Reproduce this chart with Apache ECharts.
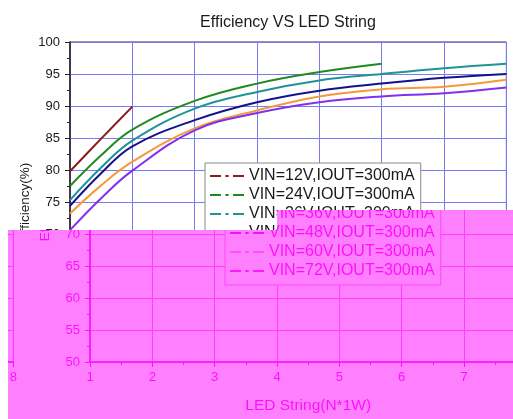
<!DOCTYPE html>
<html>
<head>
<meta charset="utf-8">
<script src="https://cdn.jsdelivr.net/npm/echarts@6/dist/echarts.min.js"></script>
<style>
  html, body { margin: 0; padding: 0; background: #fff; }
  #wrap { position: relative; width: 513px; height: 419px; overflow: hidden; }
  .chart { position: absolute; width: 513px; height: 419px; }
  /* the damaged lower part of the picture: shifted copy, tinted magenta */
  #glitch {
    position: absolute; left: 8px; top: 210px; width: 505px; height: 209px;
    overflow: hidden; background: #fff; isolation: isolate;
    clip-path: polygon(269px 0, 505px 0, 505px 209px, 0 209px, 0 20px, 269px 20px);
  }
  .tint { position: absolute; left: 0; top: 0; width: 100%; height: 100%; }
</style>
</head>
<body>
<div id="wrap">
  <div id="main" class="chart" style="left:0;top:0;"></div>
  <div id="glitch">
    <div id="copy_a" class="chart" style="left:12px;top:-210px;"></div>
    <div id="copy_b" class="chart" style="left:-501px;top:-210px;"></div>
    <div class="tint" style="background:#ff00ff;mix-blend-mode:screen;"></div>
    <div class="tint" style="background:#ff80ff;mix-blend-mode:multiply;"></div>
  </div>
</div>
<script>
// LED string length (N*1W)
const stringCounts = [1, 1.5, 2, 3, 4, 5, 6, 7, 8];
// efficiency (%)
const eff12V = [79.8, 84.9, 89.9];
const eff24V = [77.5, 82.3, 86.3, 90.8, 93.5, 95.3, 96.6];
const eff36V = [75.3, 80.4, 84.6, 89.6, 92.2, 94.0, 95.0, 95.9, 96.6];
const eff48V = [74.4, 79.5, 83.7, 87.8, 90.6, 92.4, 93.5, 94.4, 95.0];
const eff60V = [73.2, 77.6, 81.3, 86.5, 89.3, 91.5, 92.6, 93.0, 94.1];
const eff72V = [70.6, 75.6, 79.9, 86.2, 88.9, 90.6, 91.5, 92.0, 92.9];
const seriesNames = ['VIN=12V,IOUT=300mA', 'VIN=24V,IOUT=300mA', 'VIN=36V,IOUT=300mA',
                     'VIN=48V,IOUT=300mA', 'VIN=60V,IOUT=300mA', 'VIN=72V,IOUT=300mA'];
const seriesColors = ['#8b1c1c', '#1f8a1f', '#1e9494', '#12128c', '#f59a3a', '#8030f0'];

const font = 'Liberation Sans, Arial, sans-serif';
// dash - dot - dash legend mark
const dashDotIcon = 'path://M0,0h10v2h-10z M14,0h3v2h-3z M21,0h10v2h-10z';

function pairs(ys){
  let out = [];
  for(let i = 0; i < ys.length; i++){
    out.push([stringCounts[i], ys[i]]);
  }
  return out;
}

function buildOption(){
  let allEff = [eff12V, eff24V, eff36V, eff48V, eff60V, eff72V];
  let series = [];
  for(let i = 0; i < allEff.length; i++){
    series.push({
      name: seriesNames[i],
      type: 'line',
      smooth: 0.4,
      symbol: 'none',
      color: seriesColors[i],
      lineStyle: { width: 2 },
      data: pairs(allEff[i])
    });
  }
  return {
    animation: false,
    title: {
      text: 'Efficiency VS LED String',
      left: 283,
      top: 10,
      textAlign: 'center',
      textStyle: { fontFamily: font, fontSize: 16, fontWeight: 'normal', color: '#1a1a1a' }
    },
    grid: {
      left: 70, right: 6, top: 42, bottom: 57,
      show: true, borderColor: '#333', borderWidth: 1
    },
    legend: {
      orient: 'vertical',
      left: 205,
      top: 163,
      padding: [5, 6, 6, 5],
      itemGap: 3,
      itemWidth: 34,
      itemHeight: 14,
      icon: dashDotIcon,
      backgroundColor: '#fff',
      borderColor: '#888',
      borderWidth: 1,
      borderRadius: 0,
      textStyle: { fontFamily: font, fontSize: 16, lineHeight: 15, color: '#1a1a1a' },
      data: seriesNames
    },
    xAxis: {
      type: 'value',
      min: 1, max: 8, interval: 1,
      name: 'LED String(N*1W)',
      nameLocation: 'middle',
      nameGap: 36,
      nameTextStyle: { fontFamily: font, fontSize: 15.5, color: '#1a1a1a' },
      axisLine: { lineStyle: { color: '#222', width: 1.5 } },
      axisTick: { inside: false, length: 5, lineStyle: { color: '#222' } },
      minorTick: { show: true, splitNumber: 2, length: 3, lineStyle: { color: '#222' } },
      axisLabel: { fontFamily: font, fontSize: 13, color: '#1a1a1a', margin: 9 },
      splitLine: { show: true, lineStyle: { color: '#7b7bef', width: 1 } }
    },
    yAxis: {
      type: 'value',
      min: 50, max: 100, interval: 5,
      name: 'Efficiency(%)',
      nameLocation: 'middle',
      nameGap: 38,
      nameMoveOverlap: false,
      nameTextStyle: { fontFamily: font, fontSize: 13.5, color: '#1a1a1a' },
      axisLine: { show: true, lineStyle: { color: '#222', width: 1.5 } },
      axisTick: { show: true, inside: false, length: 5, lineStyle: { color: '#222' } },
      minorTick: { show: true, splitNumber: 2, length: 3, lineStyle: { color: '#222' } },
      axisLabel: { fontFamily: font, fontSize: 13, color: '#1a1a1a', margin: 10 },
      splitLine: { show: true, lineStyle: { color: '#7b7bef', width: 1 } }
    },
    series: series
  };
}

['main', 'copy_a', 'copy_b'].forEach(function(id){
  const chart = echarts.init(document.getElementById(id), null, { renderer: 'canvas' });
  chart.setOption(buildOption());
});
</script>
</body>
</html>
